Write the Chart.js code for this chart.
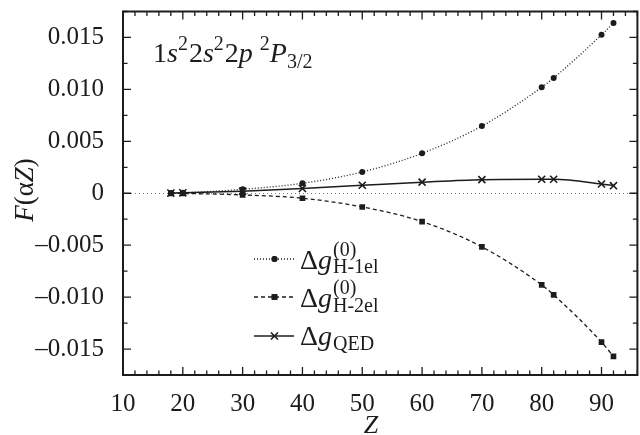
<!DOCTYPE html>
<html><head><meta charset="utf-8">
<script src="https://cdn.jsdelivr.net/npm/chart.js@4.4.0/dist/chart.umd.min.js"></script>
<style>
html,body{margin:0;padding:0;overflow:hidden;background:#fff;width:640px;height:435px}
canvas{display:block}
</style></head>
<body><canvas id="c" width="644" height="435" style="width:644px;height:435px"></canvas>
<script>
// ---- data ----
const Z = [18, 20, 30, 40, 50, 60, 70, 80, 82, 90, 92];
const h1el = [0.00002, 0.00004, 0.00038, 0.00096, 0.00205, 0.00385, 0.00647, 0.0102, 0.0111, 0.01525, 0.0164];
const h2el = [-0.00001, -0.00002, -0.00016, -0.00048, -0.00132, -0.00273, -0.00516, -0.00882, -0.00978, -0.01433, -0.01571];
const qed  = [0.00002, 0.00004, 0.0002, 0.00046, 0.00077, 0.00107, 0.00131, 0.00135, 0.00135, 0.00089, 0.00073];
const xTicks = [10, 20, 30, 40, 50, 60, 70, 80, 90];
const xTickLabels = ['10', '20', '30', '40', '50', '60', '70', '80', '90'];
const yTicks = [-0.015, -0.01, -0.005, 0, 0.005, 0.01, 0.015];
const yTickLabels = ['\u20130.015', '\u20130.010', '\u20130.005', '0', '0.005', '0.010', '0.015'];
const xRange = [10, 96];
const yRange = [-0.0175, 0.0175];

const SERIF = '"Liberation Serif", "Times New Roman", serif';
const INK = '#1c1c1c';

function pts(ys) { return Z.map((z, i) => ({x: z, y: ys[i]})); }

const datasets = [
  {label: 'H-1el', data: pts(h1el), borderColor: INK, backgroundColor: INK, borderWidth: 1.3,
   borderDash: [1, 2], pointStyle: 'circle', pointRadius: 3, pointBorderWidth: 0, cubicInterpolationMode: 'monotone'},
  {label: 'H-2el', data: pts(h2el), borderColor: INK, backgroundColor: INK, borderWidth: 1.3,
   borderDash: [4, 3], pointStyle: 'rect', pointRadius: 4, pointBorderWidth: 0, cubicInterpolationMode: 'monotone'},
  {label: 'QED', data: pts(qed), borderColor: INK, backgroundColor: INK, borderWidth: 1.5,
   borderDash: [], pointStyle: 'crossRot', pointRadius: 5, pointBorderWidth: 1.6, cubicInterpolationMode: 'monotone'}
];

function drawRuns(ctx, x, y, runs) {
  for (const r of runs) {
    ctx.font = r.f;
    ctx.fillText(r.t, x, y + (r.dy || 0));
    x += ctx.measureText(r.t).width + (r.after || 0);
  }
  return x;
}

const framePlugin = {
  id: 'frame',
  beforeDatasetsDraw(chart) {
    const {ctx, chartArea: a, scales: {y}} = chart;
    const y0 = y.getPixelForValue(0);
    ctx.save();
    ctx.strokeStyle = '#777';
    ctx.lineWidth = 1;
    ctx.setLineDash([1, 3]);
    ctx.beginPath(); ctx.moveTo(a.left, Math.round(y0) + 0.5); ctx.lineTo(a.right, Math.round(y0) + 0.5); ctx.stroke();
    ctx.restore();
  },
  afterDraw(chart) {
    const {ctx, chartArea: a, scales: {x, y}} = chart;
    ctx.save();
    ctx.strokeStyle = INK;
    ctx.lineWidth = 1.3;
    ctx.setLineDash([]);
    ctx.beginPath();
    for (let v = xRange[0]; v <= xRange[1] + 1e-9; v += 2) {
      const px = x.getPixelForValue(v);
      const len = (Math.round(v) % 10 === 0) ? 8 : 4.5;
      ctx.moveTo(px, a.bottom); ctx.lineTo(px, a.bottom - len);
      ctx.moveTo(px, a.top); ctx.lineTo(px, a.top + len);
    }
    for (let k = -7; k <= 7; k++) {
      const v = k * 0.0025;
      const py = y.getPixelForValue(v);
      const len = (k % 2 === 0) ? 8 : 4.5;
      ctx.moveTo(a.left, py); ctx.lineTo(a.left + len, py);
      ctx.moveTo(a.right, py); ctx.lineTo(a.right - len, py);
    }
    ctx.stroke();
    ctx.lineWidth = 2;
    ctx.strokeRect(a.left, a.top, a.right - a.left, a.bottom - a.top);

    ctx.fillStyle = INK;
    ctx.textBaseline = 'alphabetic';
    ctx.textAlign = 'left';
    const M = '28px ' + SERIF, MI = 'italic 28px ' + SERIF, S = '20px ' + SERIF;
    drawRuns(ctx, 153, 61.5, [
      {t: '1', f: M}, {t: 's', f: MI}, {t: '2', f: S, dy: -11.5, after: 1},
      {t: '2', f: M}, {t: 's', f: MI}, {t: '2', f: S, dy: -11.5, after: 1},
      {t: '2', f: M}, {t: 'p', f: MI}, {t: ' ', f: M},
      {t: '2', f: S, dy: -11.5}, {t: 'P', f: MI}, {t: '3/2', f: S, dy: 6.5}
    ]);

    ctx.font = 'italic 26px ' + SERIF;
    ctx.textAlign = 'center';
    ctx.fillText('Z', 371, 433);

    ctx.save();
    ctx.translate(33, 190);
    ctx.rotate(-Math.PI / 2);
    const yRuns = [{t: 'F', f: 'italic 27px ' + SERIF}, {t: '(', f: '27px ' + SERIF}, {t: '\u03b1', f: '27px ' + SERIF},
                   {t: 'Z', f: 'italic 27px ' + SERIF}, {t: ')', f: '27px ' + SERIF}];
    let w = 0;
    for (const r of yRuns) { ctx.font = r.f; w += ctx.measureText(r.t).width; }
    ctx.textAlign = 'left';
    drawRuns(ctx, -w / 2, 0, yRuns);
    ctx.restore();

    const rows = [
      {ds: 0, ly: 259, by: 268.5, sup: '(0)', sub: 'H-1el'},
      {ds: 1, ly: 297, by: 307, sup: '(0)', sub: 'H-2el'},
      {ds: 2, ly: 336, by: 345, sup: null, sub: 'QED'}
    ];
    for (const r of rows) {
      const d = datasets[r.ds];
      ctx.save();
      ctx.strokeStyle = INK; ctx.lineWidth = d.borderWidth; ctx.setLineDash(d.borderDash);
      ctx.beginPath(); ctx.moveTo(254, r.ly); ctx.lineTo(294, r.ly); ctx.stroke();
      ctx.setLineDash([]);
      ctx.fillStyle = INK; ctx.strokeStyle = INK; ctx.lineWidth = d.pointBorderWidth || 1;
      Chart.helpers.drawPoint(ctx, {pointStyle: d.pointStyle, radius: d.pointRadius, rotation: 0, borderWidth: d.pointBorderWidth}, 274.5, r.ly);
      if (d.pointStyle !== 'crossRot') ctx.fill();
      ctx.restore();
      ctx.fillStyle = INK;
      ctx.textAlign = 'left';
      ctx.font = '28px ' + SERIF;
      ctx.fillText('\u0394', 300, r.by);
      let xx = 300 + ctx.measureText('\u0394').width;
      ctx.font = 'italic 28px ' + SERIF;
      ctx.fillText('g', xx, r.by);
      xx += ctx.measureText('g').width + 1;
      ctx.font = '20px ' + SERIF;
      if (r.sup) ctx.fillText(r.sup, xx, r.by - 13);
      ctx.fillText(r.sub, xx, r.by + 4.5);
    }
    ctx.restore();
  }
};

function noPad(s) { s.paddingTop = 0; s.paddingBottom = 0; s.paddingLeft = 0; s.paddingRight = 0; }

new Chart(document.getElementById('c'), {
  type: 'line',
  data: {datasets},
  options: {
    responsive: false,
    animation: false,
    devicePixelRatio: 1,
    layout: {padding: {left: 0, right: 2, top: 11.5, bottom: 0}},
    plugins: {legend: {display: false}, tooltip: {enabled: false}},
    scales: {
      x: {
        type: 'linear', min: xRange[0], max: xRange[1],
        grid: {display: false}, border: {display: false},
        afterFit(s) { s.height = 60; noPad(s); },
        afterBuildTicks(s) { s.ticks = xTicks.map(v => ({value: v})); },
        ticks: {
          autoSkip: false, maxRotation: 0, padding: 6, color: INK,
          font: {family: SERIF, size: 25},
          callback(v) { const i = xTicks.indexOf(v); return i >= 0 ? xTickLabels[i] : ''; }
        }
      },
      y: {
        type: 'linear', min: yRange[0], max: yRange[1],
        grid: {display: false}, border: {display: false},
        afterFit(s) { s.width = 123; noPad(s); },
        afterBuildTicks(s) { s.ticks = yTicks.map(v => ({value: v})); },
        ticks: {
          autoSkip: false, padding: 11, color: INK,
          font: {family: SERIF, size: 25},
          callback(v) { const i = yTicks.findIndex(t => Math.abs(t - v) < 1e-9); return i >= 0 ? yTickLabels[i] : ''; }
        }
      }
    }
  },
  plugins: [framePlugin]
});
</script>
</body></html>
